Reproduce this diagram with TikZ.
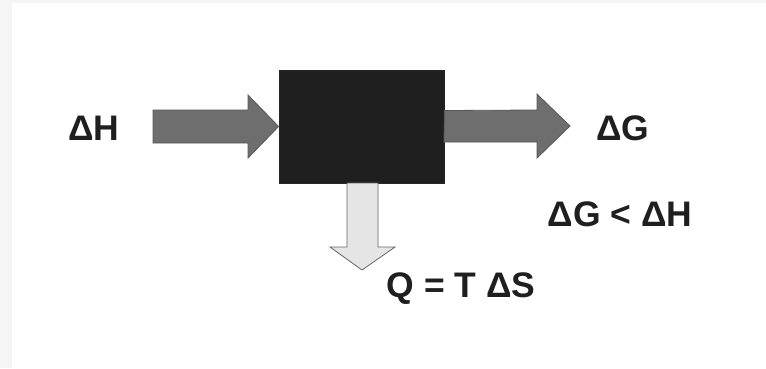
\documentclass[tikz,border=0pt]{standalone}
\usepackage{fontspec}
\setmainfont{Liberation Sans}
\begin{document}
\begin{tikzpicture}[x=1pt,y=-1pt,
  lbl/.style={font=\fontsize{35.5}{37}\selectfont\bfseries, text=black!88, inner sep=0pt},
  darrow/.style={fill=black!57, draw=black!65, line width=0.8pt, line join=miter},
  larrow/.style={fill=black!10, draw=black!60, line width=0.8pt, line join=miter}]
  % canvas with faint scan edges
  \useasboundingbox (0,0) rectangle (766,368);
  \fill[white] (0,0) rectangle (766,368);
  \fill[black!4] (0,0) rectangle (12,368);
  \fill[black!4] (0,0) rectangle (766,3);

  % central black box
  \node[draw=black!85, fill=black!88, minimum width=165pt, minimum height=113pt,
        inner sep=0pt, line width=0.8pt] (box) at (361.5,126.5) {};

  % input arrow (enthalpy)
  \coordinate (inL) at (153,126);
  \draw[darrow] (inL) ++(0,-16) -- ++(95,0) -- ++(0,-15) -- (box.west)
    -- (248,158) -- ++(0,-15) -- ++(-95,0) -- cycle;

  % output arrow (free energy)
  \coordinate (outR) at (570,126);
  \draw[darrow] (box.east) ++(0,-16) -- (537,110) -- (537,94) -- (outR)
    -- (537,158) -- (537,142) -- (444,142) -- cycle;

  % heat released downwards
  \coordinate (heat) at (362,270);
  \draw[larrow] (347,183) -- (347,247) -- (330,247) -- (heat) -- (395,247)
    -- (378,247) -- (378,183) -- cycle;

  % labels
  \node[lbl] (dH) at (94,128) {ΔH};
  \node[lbl] (dG) at (623,128) {ΔG};
  \node[lbl] (ineq) at (620,214) {ΔG < ΔH};
  \node[lbl] (Q) at (461,289) {Q = T ΔS};
\end{tikzpicture}
\end{document}
